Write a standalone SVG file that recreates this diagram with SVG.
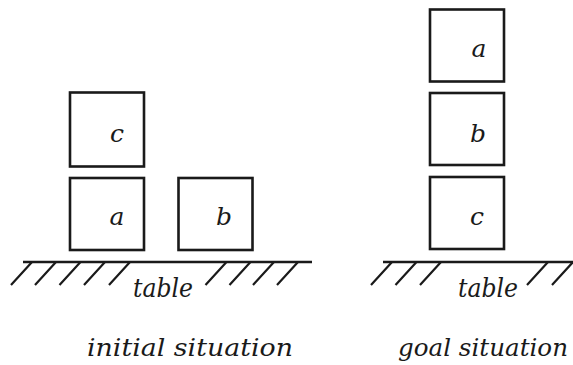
<svg xmlns="http://www.w3.org/2000/svg" width="573" height="365" viewBox="0 0 573 365">
<style>
.box{fill:none;stroke:#1a1a1a;stroke-width:2.6}
.tbl{stroke:#1a1a1a;stroke-width:2.6;fill:none}
.hat{stroke:#1a1a1a;stroke-width:2.2;fill:none}
.t{font-family:'DejaVu Serif',serif;font-style:italic;fill:#1a1a1a}
.lbl{font-size:25px;text-anchor:middle}
.cap{font-size:25px}
</style>
<rect width="573" height="365" fill="#ffffff"/>
<g id="initial-c"><rect class="box" x="70" y="92.5" width="74" height="74"/><text class="t lbl" x="117" y="141.5">c</text></g>
<g id="initial-a"><rect class="box" x="70" y="178" width="74" height="72"/><text class="t lbl" x="117" y="225">a</text></g>
<g id="initial-b"><rect class="box" x="178.5" y="178" width="74" height="72"/><text class="t lbl" x="224" y="225">b</text></g>
<g id="goal-a"><rect class="box" x="430" y="9.5" width="74" height="72"/><text class="t lbl" x="479" y="57">a</text></g>
<g id="goal-b"><rect class="box" x="430" y="93" width="74" height="72"/><text class="t lbl" x="478" y="141.5">b</text></g>
<g id="goal-c"><rect class="box" x="430" y="177" width="74" height="72"/><text class="t lbl" x="477" y="225">c</text></g>
<g id="table-initial">
<line class="tbl" x1="23" y1="262" x2="312" y2="262"/>
<path class="hat" d="M32,262 l-21,23 M56,262 l-21,23 M80.5,262 l-21,23 M105,262 l-21,23 M130,262 l-21,23 M226.5,262 l-21,23 M250.5,262 l-21,23 M274,262 l-21,23 M298,262 l-21,23"/>
<text class="t" x="133" y="297" font-size="26" textLength="60" lengthAdjust="spacingAndGlyphs">table</text>
</g>
<g id="table-goal">
<line class="tbl" x1="383" y1="262" x2="573" y2="262"/>
<path class="hat" d="M392,262 l-21,23 M416.5,262 l-21,23 M441,262 l-21,23 M548,262 l-21,23 M573,262 l-21,23"/>
<text class="t" x="458" y="297" font-size="26" textLength="60" lengthAdjust="spacingAndGlyphs">table</text>
</g>
<g id="connectors"></g>
<text class="t cap" x="87" y="356" textLength="206" lengthAdjust="spacingAndGlyphs">initial situation</text>
<text class="t cap" x="398" y="356" textLength="170" lengthAdjust="spacingAndGlyphs">goal situation</text>
</svg>
